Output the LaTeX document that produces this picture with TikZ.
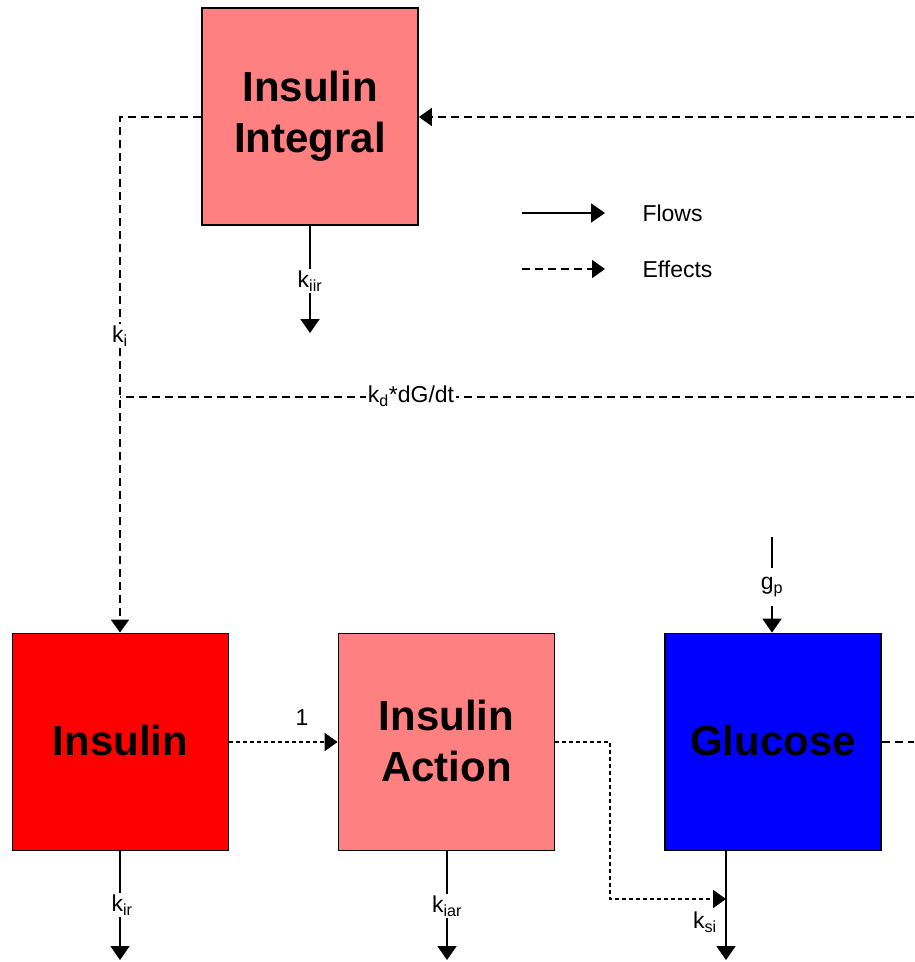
\documentclass[tikz,border=0pt]{standalone}
\usepackage{fontspec}
\setmainfont{Liberation Sans}
\usetikzlibrary{arrows.meta}
\tikzset{
  box/.style={draw=black,line width=1.8pt,minimum width=216pt,minimum height=217pt,inner sep=0pt,
    font=\fontsize{42}{51}\selectfont\bfseries,align=center},
  flow/.style={line width=2pt,-{Triangle[width=19pt,length=14pt]}},
  flowline/.style={line width=2pt},
  effect/.style={line width=1.9pt,dash pattern=on 8pt off 5pt},
  dotline/.style={line width=1.9pt,dash pattern=on 4pt off 3pt},
  tip/.style={-{Triangle[width=18pt,length=13pt]}},
  lbl/.style={fill=white,inner sep=2pt,font=\fontsize{23}{27}\selectfont},
  plain/.style={font=\fontsize{23}{27}\selectfont},
  leg/.style={font=\fontsize{23}{27}\selectfont,anchor=west}
}
\definecolor{lightred}{HTML}{FF8080}
\begin{document}
\begin{tikzpicture}[x=1pt,y=-1pt]
\useasboundingbox (0,0) rectangle (914,962);
% boxes
\node[box,fill=lightred] (ii) at (310,116.5) {};
\node[font=\fontsize{42}{51}\selectfont\bfseries,align=center] (iitext) at (310,116) {Insulin\\Integral};
\node[box,fill=red] (ins) at (120.5,742) {};
\node[font=\fontsize{42}{51}\selectfont\bfseries] (instext) at (120.5,740) {Insulin};
\node[box,fill=lightred] (ia) at (446.5,742) {};
\node[font=\fontsize{42}{51}\selectfont\bfseries,align=center] (iatext) at (446.5,741) {Insulin\\Action};
\node[box,fill=blue] (glu) at (773,742) {};
\node[font=\fontsize{42}{51}\selectfont\bfseries] (glutext) at (773,740) {Glucose};
% coordinates
\coordinate (rtop) at (914,117);
\coordinate (rmid) at (914,397);
\coordinate (rglu) at (914,742);
\coordinate (kiicorner) at (120,117);
\coordinate (kdjoin) at (120,397);
\coordinate (kiirend) at (310,333);
\coordinate (kirend) at (120,960);
\coordinate (kiarend) at (447,960);
\coordinate (ksiend) at (726,960);
\coordinate (gpstart) at (772,537);
\coordinate (dA) at (610,742);
\coordinate (dB) at (610,899);
\coordinate (ksihit) at (726,899);
% effects to insulin integral
\draw[effect,tip] (rtop) -- (ii.east |- rtop);
% insulin integral -> insulin
\draw[effect,tip] (ii.west |- kiicorner) -- (kiicorner) -- (ins.north -| kiicorner);
\node[lbl] at (120,336) {k\textsubscript{i}};
% kd dG/dt
\draw[effect] (rmid) -- (kdjoin);
\node[lbl] at (411,396) {k\textsubscript{d}*dG/dt};
% insulin integral outflow
\draw[flow] (ii.south -| kiirend) -- (kiirend);
\node[lbl] at (310,281) {k\textsubscript{iir}};
% insulin outflow
\draw[flow] (ins.south -| kirend) -- (kirend);
\node[lbl] at (122,905) {k\textsubscript{ir}};
% insulin action outflow
\draw[flow] (ia.south -| kiarend) -- (kiarend);
\node[lbl] at (447,906) {k\textsubscript{iar}};
% glucose outflow
\draw[flow] (glu.south -| ksiend) -- (ksiend);
\node[plain] at (705,922) {k\textsubscript{si}};
% gp inflow
\draw[flowline] (gpstart) -- (772,568);
\draw[flow] (772,606) -- (glu.north -| gpstart);
\node[plain] at (772,587) {g\textsubscript{p}};
% insulin -> insulin action
\draw[dotline,tip] (ins.east) -- (ia.west);
\node[plain] at (302,718) {1};
% insulin action -> ksi
\draw[dotline,tip] (ia.east) -- (dA) -- (dB) -- (ksihit);
% glucose right effect
\draw[effect] (glu.east) -- (rglu);
% legend
\coordinate (l1a) at (522,213); \coordinate (l1b) at (605,213);
\coordinate (l2a) at (522,269); \coordinate (l2b) at (605,269);
\draw[flow] (l1a) -- (l1b);
\draw[effect,tip] (l2a) -- (l2b);
\node[leg] (flows) at (639,213) {Flows};
\node[leg] (effects) at (639,269) {Effects};
\end{tikzpicture}
\end{document}
